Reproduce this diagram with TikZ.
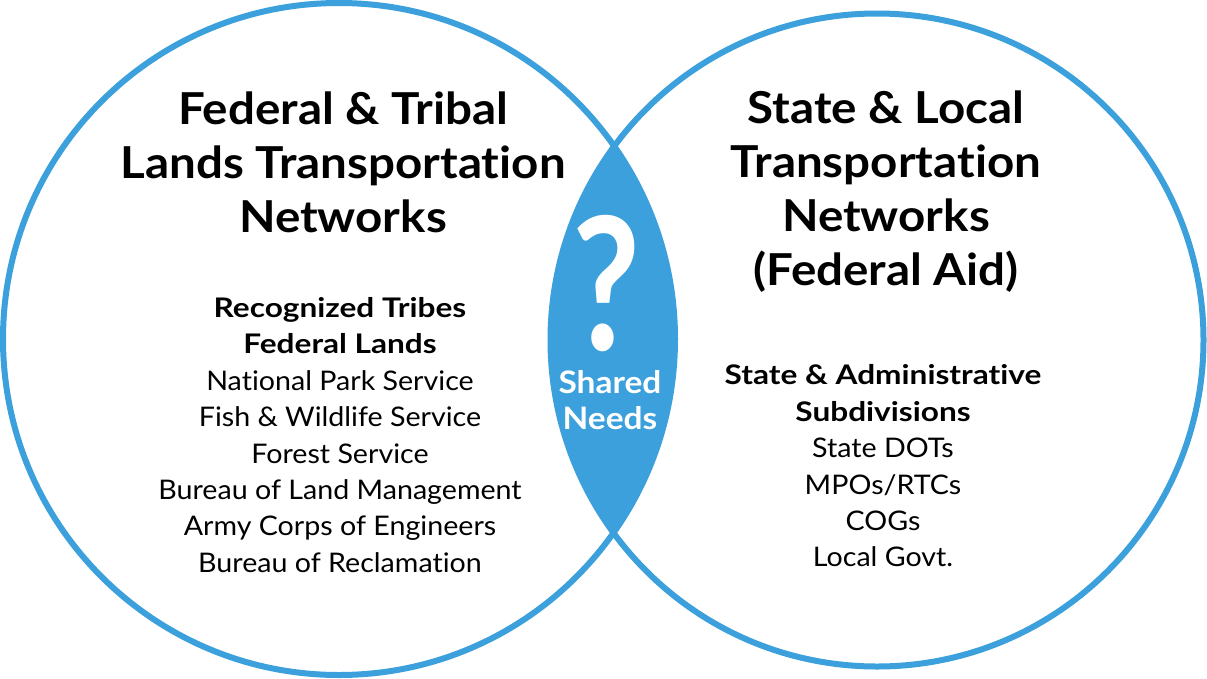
\documentclass[tikz,border=0pt]{standalone}
\usepackage{graphicx}
\usepackage{fontspec}
\setmainfont[Ligatures={CommonOff,RareOff,ContextualOff}]{Lato}
\definecolor{vblue}{RGB}{59,160,219}
\newcommand{\hsc}[2]{\scalebox{#1}[1]{#2}}
\newcommand{\tl}[1]{\hsc{1.08}{#1}}
\newcommand{\bl}[1]{\hsc{1.17}{\textbf{#1}}}
\newcommand{\rl}[1]{\hsc{1.06}{#1}}
\tikzset{
  ring/.style={draw=vblue, line width=6pt},
  title/.style={align=center, font=\bfseries\fontsize{44}{54}\selectfont, inner sep=0pt},
  listtxt/.style={align=center, font=\fontsize{27}{36.4}\selectfont, inner sep=0pt},
  lenstxt/.style={align=center, text=white, font=\bfseries\fontsize{31}{36}\selectfont, inner sep=0pt},
}
\begin{document}
\begin{tikzpicture}[x=1pt,y=-1pt]
\useasboundingbox[fill=white] (0,0) rectangle (1207,678);
\coordinate (L) at (339,339);
\coordinate (R) at (877,340);
\begin{scope}
  \clip (L) circle (336pt);
  \fill[vblue] (R) circle (326.5pt);
\end{scope}
\draw[ring] (L) circle (336pt);
\draw[ring] (R) circle (326.5pt);

\node[title] (lt) at (343,162) {\tl{Federal \& Tribal}\\\tl{Lands Transportation}\\\tl{Networks}};
\node[title] (rt) at (886,191.5) {\tl{State \& Local}\\\tl{Transportation}\\\tl{Networks}\\\tl{(Federal Aid)}};

\node[listtxt] (ll) at (340,435) {\bl{Recognized Tribes}\\\bl{Federal Lands}\\\rl{National Park Service}\\\rl{Fish \& Wildlife Service}\\\rl{Forest Service}\\\rl{Bureau of Land Management}\\\rl{Army Corps of Engineers}\\\rl{Bureau of Reclamation}};
\node[listtxt] (rl) at (883,466) {\bl{State \& Administrative}\\\bl{Subdivisions}\\\rl{State DOTs}\\\rl{MPOs/RTCs}\\\rl{COGs}\\\rl{Local Govt.}};

\node[text=white, inner sep=0pt, font=\bfseries\fontsize{185}{185}\selectfont] (q) at (607,284) {\hsc{0.8}{?}};
\node[lenstxt] (sn) at (610,400) {\hsc{1.08}{Shared}\\\hsc{1.08}{Needs}};
\end{tikzpicture}
\end{document}
